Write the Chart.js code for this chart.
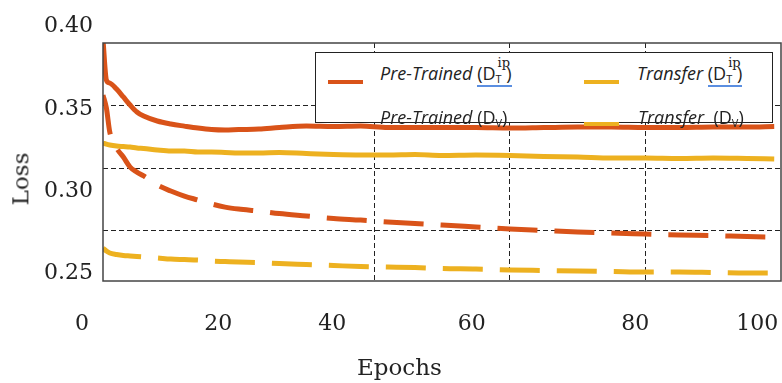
<!DOCTYPE html>
<html>
<head>
<meta charset="utf-8">
<script src="https://cdn.jsdelivr.net/npm/chart.js@4/dist/chart.umd.min.js"></script>
<style>
  html, body { margin: 0; padding: 0; background: #fff; }
  #wrap { position: relative; width: 782px; height: 383px; overflow: hidden; }
  #chart { position: absolute; left: 0; top: 0; }
  .lbl { position: absolute; font-family: "DejaVu Serif", serif; font-size: 23px; color: #222; white-space: nowrap; }
  #legendBox { position: absolute; left: 315px; top: 52px; width: 456px; height: 69px; border: 1px solid #222; background: #fff; }
  .sw { position: absolute; height: 4px; width: 35px; }
  .lt { position: absolute; font-family: "Open Sans", sans-serif; font-size: 18px; line-height: 22px; color: #222; white-space: nowrap; }
  .lt i { font-style: italic; }
  .lt sub { font-size: 11px; vertical-align: -3px; }
  .lt sup { font-family: "DejaVu Serif", serif; font-size: 13px; position: relative; top: -10px; margin-left: -14px; vertical-align: top; }
  .ul { border-bottom: 2px solid #5b8ee0; }
</style>
</head>
<body>
<div id="wrap">
  <canvas id="chart" width="782" height="383"></canvas>

  <div id="legendBox"></div>
  <div class="sw" style="left:328px; top:80px; background:#D95319;"></div>
  <div class="lt" style="left:380px; top:62px;"><i>Pre-Trained</i> <span class="ul">(D<sub>T</sub>&nbsp;)</span><sup>ip</sup></div>
  <div class="sw" style="left:584px; top:80px; background:#EDB120;"></div>
  <div class="lt" style="left:637px; top:62px;"><i>Transfer</i> <span class="ul">(D<sub>T</sub>&nbsp;)</span><sup>ip</sup></div>
  <div class="lt" style="left:380px; top:106px;"><i>Pre-Trained</i> (D<sub>V</sub>)</div>
  <div class="sw" style="left:584px; top:122px; background:#EDB120;"></div>
  <div class="lt" style="left:638px; top:106px;"><i>Transfer</i>&nbsp; (D<sub>V</sub>)</div>

  <div class="lbl" style="left:357px; top:354px;">Epochs</div>
  <div class="lbl" style="left:-6px; top:166px; transform: rotate(-90deg);">Loss</div>
</div>

<script>
// Epochs where the curves were sampled
const epochs = [0, 0.5, 1, 2, 3, 4, 5, 6, 8, 10, 12, 14, 16, 18, 20, 23, 26, 30, 34, 38,
                42, 46, 50, 55, 60, 65, 70, 75, 80, 85, 90, 95, 99];

// Loss curves
const preTrainedIp = [0.3901, 0.3658, 0.3640, 0.3603, 0.3555, 0.3506, 0.3464, 0.3439, 0.3409, 0.3391,
                      0.3378, 0.3366, 0.3357, 0.3354, 0.3357, 0.3360, 0.3369, 0.3378, 0.3375, 0.3378,
                      0.3369, 0.3369, 0.3369, 0.3369, 0.3366, 0.3369, 0.3372, 0.3372, 0.3369, 0.3369,
                      0.3372, 0.3372, 0.3375];
const transferIp = [0.3275, 0.3268, 0.3263, 0.3257, 0.3254, 0.3251, 0.3245, 0.3242, 0.3233, 0.3227,
                    0.3227, 0.3221, 0.3221, 0.3218, 0.3214, 0.3214, 0.3218, 0.3211, 0.3205, 0.3202,
                    0.3202, 0.3205, 0.3199, 0.3202, 0.3199, 0.3193, 0.3190, 0.3184, 0.3184, 0.3181,
                    0.3184, 0.3181, 0.3178];
const preTrainedV = [0.3567, 0.3488, 0.3342, 0.3245, 0.3190, 0.3129, 0.3099, 0.3075, 0.3020, 0.2984,
                     0.2953, 0.2929, 0.2905, 0.2886, 0.2874, 0.2862, 0.2847, 0.2832, 0.2817, 0.2807,
                     0.2795, 0.2786, 0.2777, 0.2765, 0.2753, 0.2744, 0.2735, 0.2728, 0.2722, 0.2716,
                     0.2713, 0.2707, 0.2704];
const transferV = [0.2637, 0.2619, 0.2607, 0.2598, 0.2592, 0.2589, 0.2586, 0.2583, 0.2577, 0.2570,
                   0.2567, 0.2564, 0.2558, 0.2555, 0.2552, 0.2549, 0.2543, 0.2537, 0.2531, 0.2525,
                   0.2522, 0.2519, 0.2513, 0.2510, 0.2504, 0.2501, 0.2498, 0.2495, 0.2492, 0.2492,
                   0.2489, 0.2486, 0.2486];

// Tick labels (the figure's labels sit off the grid, so they keep their own spots)
const xTickLabels = ['0', '20', '40', '60', '80', '100'];
const xLabelAt = [-3.1, 17.0, 33.8, 54.4, 78.5, 96.5];
const yTickValues = [0.25, 0.30, 0.35, 0.40];

// Dashed grid lines
const xGridAt = [40, 60, 80];
const yGridAt = [0.25, 0.30, 0.35];

const orange = '#D95319';
const yellow = '#EDB120';

function pts(values) {
    return epochs.map((e, i) => ({ x: e, y: values[i] }));
}

function lineSet(label, values, color, dashed, order) {
    return {
        label: label,
        data: pts(values),
        borderColor: color,
        backgroundColor: color,
        borderWidth: 5,
        borderDash: dashed ? [40, 17] : [],
        borderCapStyle: 'butt',
        pointRadius: 0,
        cubicInterpolationMode: 'monotone',
        order: order
    };
}

// Box around the plot area
const frame = {
    id: 'frame',
    afterDraw(chart) {
        const a = chart.chartArea;
        const ctx = chart.ctx;
        ctx.save();
        ctx.strokeStyle = '#444';
        ctx.lineWidth = 1.5;
        ctx.strokeRect(a.left, a.top, a.right - a.left, a.bottom - a.top);
        ctx.restore();
    }
};

// keep every axis from asking for extra room at the sides
function noPad(s) {
    s.paddingLeft = 0; s.paddingRight = 0;
    s.paddingTop = 0; s.paddingBottom = 0;
}

const tickFont = { family: 'DejaVu Serif', size: 22 };
const gridStyle = { color: '#222', lineWidth: 1, drawTicks: false };

new Chart(document.getElementById('chart'), {
    type: 'line',
    data: {
        datasets: [
            lineSet('Transfer (D_V)', transferV, yellow, true, 3),
            lineSet('Transfer (D_T^ip)', transferIp, yellow, false, 2),
            lineSet('Pre-Trained (D_T^ip)', preTrainedIp, orange, false, 1),
            lineSet('Pre-Trained (D_V)', preTrainedV, orange, true, 0)
        ]
    },
    options: {
        responsive: false,
        animation: false,
        layout: { padding: { top: 43, right: 1, left: 0, bottom: 0 } },
        plugins: { legend: { display: false }, tooltip: { enabled: false } },
        scales: {
            x: {
                type: 'linear', position: 'bottom', min: 0, max: 100,
                afterBuildTicks: s => { s.ticks = xGridAt.map(v => ({ value: v })); },
                afterFit: s => { s.height = 0; noPad(s); },
                ticks: { display: false },
                grid: gridStyle,
                border: { display: false, dash: [5, 3] }
            },
            xl: {
                type: 'linear', position: 'bottom', min: 0, max: 100,
                afterBuildTicks: s => { s.ticks = xLabelAt.map(v => ({ value: v })); },
                afterFit: s => { s.height = 102; noPad(s); },
                ticks: {
                    autoSkip: false, maxRotation: 0, padding: 30, color: '#222', font: tickFont,
                    callback: (v, i) => xTickLabels[i]
                },
                grid: { display: false, drawTicks: false },
                border: { display: false }
            },
            y: {
                type: 'linear', position: 'left', min: 0.2437, max: 0.3883,
                afterBuildTicks: s => { s.ticks = yTickValues.map(v => ({ value: v })); },
                afterFit: s => { s.width = 103; noPad(s); },
                ticks: {
                    autoSkip: false, padding: 10, labelOffset: 3, color: '#222', font: tickFont,
                    callback: v => v.toFixed(2)
                },
                grid: { display: false, drawTicks: false },
                border: { display: false }
            },
            yg: {
                type: 'linear', position: 'left', min: 0.21, max: 0.40,
                afterBuildTicks: s => { s.ticks = yGridAt.map(v => ({ value: v })); },
                afterFit: s => { s.width = 0; noPad(s); },
                ticks: { display: false },
                grid: gridStyle,
                border: { display: false, dash: [5, 3] }
            }
        }
    },
    plugins: [frame]
});
</script>
</body>
</html>
